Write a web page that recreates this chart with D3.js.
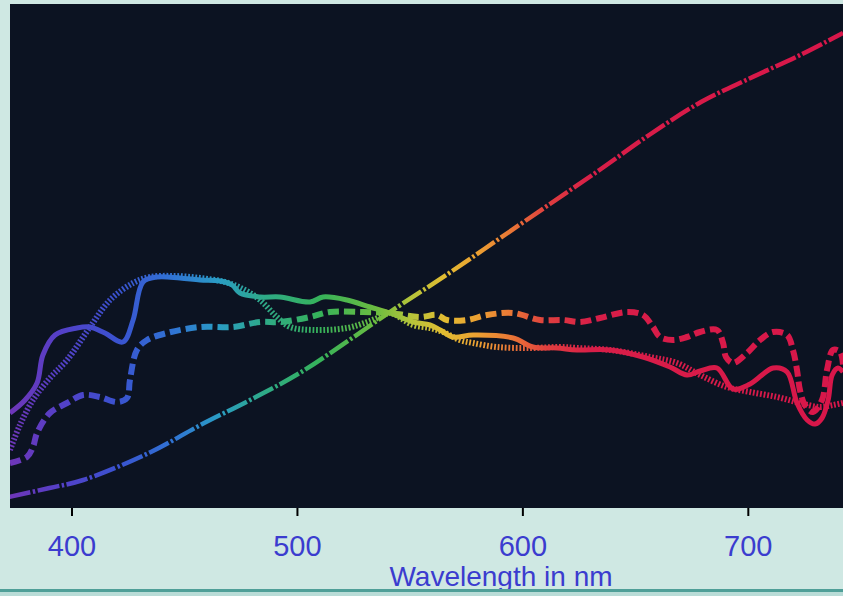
<!DOCTYPE html>
<html>
<head>
<meta charset="utf-8">
<script src="https://cdn.jsdelivr.net/npm/d3@7"></script>
<style>
  html, body { margin: 0; padding: 0; background: #cfe8e3; }
  svg { display: block; }
</style>
</head>
<body>
<svg id="chart" width="843" height="596"></svg>
<script>
// Spectral power curves of four light sources, relative units (0-100)
const ticks = [400, 500, 600, 700];
const axisTitle = "Wavelength in nm";

const dashDotNm  = [372, 390, 405, 435, 457, 479, 501, 523, 541, 568, 590, 612, 634, 656, 679, 701, 723, 742];
const dashDotVal = [2.2, 4, 5.6, 11.2, 16.6, 21.6, 27, 33.6, 39.2, 47.2, 54, 60.8, 67.6, 74.6, 81.2, 86, 90.6, 95];

const solidNm  = [372.5, 379.2, 384.5, 387.1, 392.5, 402.2, 408, 414.6, 422.6, 427.1, 431.5, 437.7, 447.9, 456.8, 465.7, 471,
                  474.5, 483.4, 492.3, 505.6, 511.4, 522, 532.2, 541.1, 551.3, 558.8, 563.3, 569, 577.9, 595.7, 604.5, 615.1,
                  624, 638.7, 653.3, 665.3, 672.8, 678.6, 686.1, 693.2, 700.8, 711, 717.2, 721.6, 726.1, 729.6, 732.7, 735.4,
                  737.2, 739.8, 742];
const solidVal = [19, 21.6, 25, 30.6, 34.6, 36, 36.2, 35, 33.2, 37.6, 45.2, 46.2, 46, 45.6, 45.4, 44.6,
                  43, 42.2, 42.2, 41.2, 42.2, 41.6, 40.2, 39, 37.2, 36.6, 35.6, 34.2, 34.6, 34, 32.2, 32,
                  31.6, 31.6, 30.2, 28.2, 26.6, 27.4, 28, 23.8, 24.8, 28, 27.2, 21, 17.6, 16.8, 18, 21.6,
                  26.6, 28, 27.2];

const dottedNm  = [372.5, 376.9, 382.7, 390.2, 397.8, 408, 416.9, 427.1, 434.6, 445.7, 456.8, 467.9, 476.7, 483.4, 490.9,
                   496.7, 506.9, 522, 530.9, 536.6, 541.1, 551.3, 558.8, 564.6, 572.1, 577.9, 588.5, 603.2, 616.5, 624,
                   638.7, 656.4, 668.4, 678.6, 690.5, 700.8, 712.7, 722.9, 731.8, 737.6, 742];
const dottedVal = [11.6, 16.6, 21.6, 26, 29.6, 36.2, 41.6, 45, 46.2, 46.4, 46, 45.2, 43.6, 41.6, 38.2,
                   36.2, 35.6, 36, 37.2, 38.2, 39, 36.6, 36, 35.2, 33.6, 33, 32.2, 32, 32.2, 32,
                   31.6, 30.2, 29, 26.6, 24.2, 23.2, 22.2, 21, 20.2, 20.6, 21];

const dashedNm  = [372.5, 380, 382.7, 384.5, 390.2, 397.8, 404.9, 412.4, 420, 424.4, 425.7, 428.8, 433.3, 442.1, 456.8,
                   471.4, 483.4, 492.3, 505.6, 514.4, 529.1, 541.1, 554.4, 561.9, 566.3, 575.2, 584.1, 595.7, 607.6, 617.8,
                   625.3, 634.2, 646.2, 653.3, 657.7, 660.8, 666.6, 672.8, 678.6, 686.1, 688.8, 690.1, 693.2, 699.4, 705.2,
                   711, 717.2, 719.8, 721.6, 722.9, 725.1, 728.7, 732.7, 734.9, 737.6, 740.7, 742];
const dashedVal = [9, 10.2, 12.2, 15, 19, 21, 22.6, 22.2, 21.2, 22, 25.6, 31.6, 33.6, 35, 36.2,
                   36.2, 37.2, 37.2, 38.2, 39.2, 39.2, 39, 38.2, 38.6, 37.6, 37.6, 38.6, 39, 37.6, 37.6,
                   37.2, 38, 39.2, 38.6, 36.2, 34.2, 33.6, 34.2, 35.2, 35.6, 33, 30.2, 29, 31, 33.6,
                   35.2, 34.6, 31.6, 27.6, 23.6, 20.6, 19.2, 21.6, 27.6, 31.6, 31.2, 28.6];

// colour of the spectrum at a given wavelength
const spectrumNm  = [372, 395, 420, 445, 465, 485, 510, 535, 550, 565, 580, 595, 610, 630, 742];
const spectrumCol = ["#6e36b8", "#5440c8", "#3a52d0", "#3074d4", "#2a9cc4", "#2eaa88", "#36b25a", "#6cbc40",
                     "#b4c43a", "#e2bc32", "#eca032", "#ea7636", "#e0403e", "#d81e48", "#d8164a"];

const series = [
  { name: "dashdot", nm: dashDotNm, val: dashDotVal, dash: "22,2.5,2.5,2.5", width: 4.5 },
  { name: "dashed",  nm: dashedNm,  val: dashedVal,  dash: "11,5",          width: 6 },
  { name: "dotted",  nm: dottedNm,  val: dottedVal,  dash: "1.8,1.8",       width: 6 },
  { name: "solid",   nm: solidNm,   val: solidVal,   dash: null,            width: 5 }
];

const width = 843, height = 596;
const margin = { top: 4, right: 0, bottom: 88, left: 10 };
const plotBottom = height - margin.bottom;

const x = d3.scaleLinear().domain([372.5, 742]).range([margin.left, width - margin.right]);
const y = d3.scaleLinear().domain([0, 100]).range([plotBottom, plotBottom - 500]);

const svg = d3.select("#chart");
const defs = svg.append("defs");

defs.append("clipPath").attr("id", "plot-clip")
  .append("rect")
    .attr("x", margin.left).attr("y", margin.top)
    .attr("width", width - margin.left - margin.right)
    .attr("height", plotBottom - margin.top);

const grad = defs.append("linearGradient")
    .attr("id", "spectrum")
    .attr("gradientUnits", "userSpaceOnUse")
    .attr("x1", x(372.5)).attr("x2", x(742))
    .attr("y1", 0).attr("y2", 0);
grad.selectAll("stop")
  .data(spectrumNm)
  .join("stop")
    .attr("offset", d => (x(d) - x(372.5)) / (x(742) - x(372.5)))
    .attr("stop-color", (d, i) => spectrumCol[i]);

// dark photo background
svg.append("rect")
    .attr("x", margin.left).attr("y", margin.top)
    .attr("width", width - margin.left - margin.right)
    .attr("height", plotBottom - margin.top)
    .attr("fill", "#0c1322");

const line = d3.line()
    .x(d => x(d[0]))
    .y(d => y(d[1]))
    .curve(d3.curveCatmullRom.alpha(0.5));

svg.append("g")
    .attr("clip-path", "url(#plot-clip)")
    .attr("fill", "none")
    .attr("stroke-linejoin", "round")
  .selectAll("path")
  .data(series)
  .join("path")
    .attr("stroke", "url(#spectrum)")
    .attr("stroke-width", d => d.width)
    .attr("stroke-dasharray", d => d.dash)
    .attr("d", d => line(d.nm.map((n, i) => [n, d.val[i]])));

// ticks + labels
const axis = svg.append("g");
axis.selectAll("line")
  .data(ticks)
  .join("line")
    .attr("x1", d => x(d)).attr("x2", d => x(d))
    .attr("y1", plotBottom).attr("y2", plotBottom + 8)
    .attr("stroke", "#000")
    .attr("stroke-width", 2);

axis.selectAll("text")
  .data(ticks)
  .join("text")
    .attr("x", d => x(d))
    .attr("y", 556)
    .attr("text-anchor", "middle")
    .style("font", "29px 'Liberation Sans', Arial, sans-serif")
    .attr("fill", "#3b3ccf")
    .text(d => d);

svg.append("text")
    .attr("x", 501)
    .attr("y", 586)
    .attr("text-anchor", "middle")
    .style("font", "28px 'Liberation Sans', Arial, sans-serif")
    .attr("fill", "#3b3ccf")
    .text(axisTitle);

// bottom rule
svg.append("rect").attr("x", 0).attr("y", 589).attr("width", width).attr("height", 3).attr("fill", "#4f9f98");
svg.append("rect").attr("x", 0).attr("y", 592).attr("width", width).attr("height", 4).attr("fill", "#b9dcd7");
</script>
</body>
</html>
